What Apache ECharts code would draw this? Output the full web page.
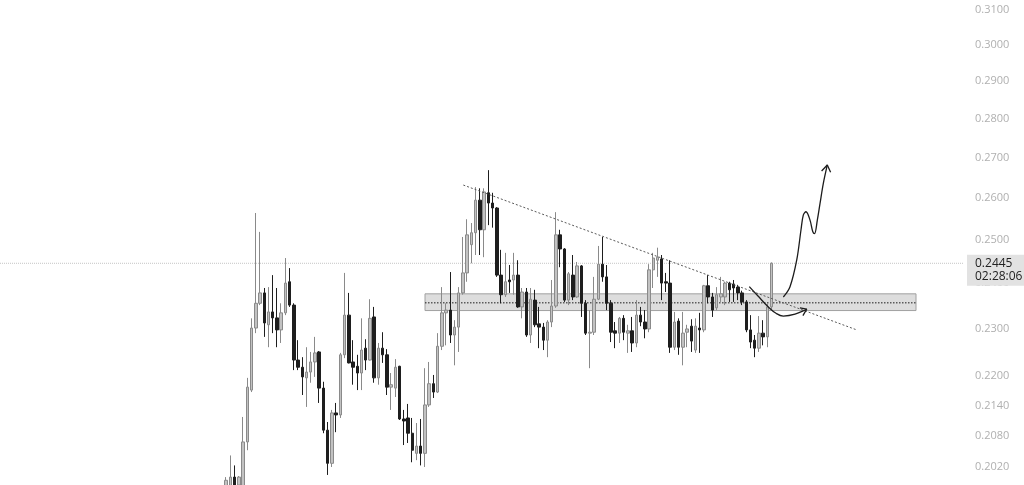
<!DOCTYPE html>
<html><head><meta charset="utf-8">
<script src="https://cdn.jsdelivr.net/npm/echarts@6/dist/echarts.min.js"></script>
<style>html,body{margin:0;padding:0;background:#fff}#c{width:1024px;height:485px}</style>
</head><body><div id="c"></div>
<script>
// ---- data ----
const startIndex = 53;
const slotCount = 228;
const opens = [0.1958,0.1967,0.2001,0.1986,0.1977,0.2068,0.2171,0.2301,0.2355,0.2378,
0.2308,0.2336,0.2323,0.2297,0.2334,0.2403,0.2351,0.2233,0.2218,0.2196,
0.2208,0.2229,0.2250,0.2175,0.2091,0.2027,0.2125,0.2121,0.2244,0.2329,
0.2229,0.2220,0.2206,0.2258,0.2233,0.2325,0.2196,0.2258,0.2244,0.2177,
0.2175,0.2220,0.2113,0.2115,0.2085,0.2046,0.2060,0.2046,0.2141,0.2184,
0.2167,0.2262,0.2334,0.2340,0.2286,0.2303,0.2378,0.2423,0.2488,0.2516,
0.2594,0.2523,0.2612,0.2587,0.2575,0.2418,0.2374,0.2407,0.2407,0.2418,
0.2347,0.2380,0.2286,0.2362,0.2310,0.2303,0.2275,0.2314,0.2349,0.2511,
0.2478,0.2362,0.2418,0.2369,0.2439,0.2355,0.2290,0.2292,0.2364,0.2443,
0.2414,0.2355,0.2295,0.2290,0.2322,0.2290,0.2295,0.2269,0.2329,0.2314,
0.2299,0.2430,0.2452,0.2455,0.2403,0.2400,0.2260,0.2316,0.2260,0.2292,
0.2305,0.2254,0.2301,0.2297,0.2394,0.2369,0.2345,0.2369,0.2369,0.2400,
0.2398,0.2391,0.2378,0.2358,0.2297,0.2275,0.2258,0.2290,0.2282,0.2347];
const closes = [0.1995,0.2001,0.1973,0.2001,0.2068,0.2177,0.2301,0.2355,0.2378,0.2312,
0.2336,0.2323,0.2297,0.2334,0.2400,0.2351,0.2233,0.2218,0.2198,0.2208,
0.2229,0.2248,0.2175,0.2091,0.2027,0.2125,0.2121,0.2244,0.2329,0.2227,
0.2218,0.2206,0.2254,0.2233,0.2322,0.2196,0.2258,0.2244,0.2177,0.2182,
0.2218,0.2113,0.2109,0.2085,0.2052,0.2060,0.2046,0.2141,0.2184,0.2167,
0.2262,0.2334,0.2340,0.2286,0.2303,0.2378,0.2423,0.2511,0.2516,0.2594,
0.2523,0.2614,0.2587,0.2575,0.2418,0.2374,0.2403,0.2403,0.2418,0.2347,
0.2380,0.2286,0.2364,0.2308,0.2303,0.2275,0.2314,0.2349,0.2511,0.2478,
0.2362,0.2421,0.2369,0.2439,0.2355,0.2290,0.2292,0.2364,0.2443,0.2414,
0.2355,0.2292,0.2290,0.2322,0.2292,0.2295,0.2269,0.2329,0.2314,0.2299,
0.2430,0.2457,0.2459,0.2400,0.2400,0.2260,0.2314,0.2260,0.2290,0.2299,
0.2273,0.2305,0.2297,0.2394,0.2369,0.2340,0.2374,0.2376,0.2400,0.2385,
0.2389,0.2378,0.2358,0.2297,0.2271,0.2258,0.2290,0.2282,0.2347,0.2445];
const lows = [0.1949,0.1958,0.1958,0.1977,0.1967,0.2052,0.2167,0.2290,0.2351,0.2282,
0.2260,0.2290,0.2260,0.2269,0.2329,0.2347,0.2212,0.2212,0.2161,0.2137,
0.2186,0.2198,0.2145,0.2085,0.2005,0.2020,0.2087,0.2115,0.2237,0.2226,
0.2182,0.2171,0.2171,0.2212,0.2232,0.2186,0.2182,0.2227,0.2161,0.2131,
0.2157,0.2111,0.2062,0.2066,0.2029,0.2033,0.2023,0.2020,0.2137,0.2155,
0.2165,0.2254,0.2264,0.2269,0.2222,0.2250,0.2374,0.2403,0.2445,0.2464,
0.2464,0.2459,0.2534,0.2528,0.2414,0.2355,0.2369,0.2378,0.2374,0.2345,
0.2322,0.2282,0.2269,0.2303,0.2258,0.2254,0.2239,0.2303,0.2345,0.2436,
0.2358,0.2351,0.2362,0.2367,0.2325,0.2286,0.2216,0.2286,0.2362,0.2403,
0.2340,0.2271,0.2258,0.2269,0.2275,0.2248,0.2250,0.2260,0.2305,0.2279,
0.2292,0.2389,0.2414,0.2362,0.2380,0.2248,0.2254,0.2244,0.2222,0.2260,
0.2250,0.2248,0.2248,0.2292,0.2355,0.2325,0.2340,0.2358,0.2351,0.2358,
0.2358,0.2362,0.2351,0.2292,0.2258,0.2239,0.2250,0.2264,0.2260,0.2342];
const highs = [0.2001,0.2042,0.2023,0.2003,0.2117,0.2196,0.2322,0.2563,0.2518,0.2389,
0.2391,0.2418,0.2389,0.2355,0.2457,0.2434,0.2355,0.2275,0.2239,0.2260,
0.2250,0.2282,0.2252,0.2188,0.2107,0.2131,0.2145,0.2248,0.2423,0.2378,
0.2275,0.2244,0.2322,0.2277,0.2364,0.2347,0.2269,0.2292,0.2256,0.2206,
0.2235,0.2221,0.2131,0.2143,0.2115,0.2105,0.2113,0.2216,0.2229,0.2202,
0.2290,0.2391,0.2355,0.2425,0.2318,0.2391,0.2506,0.2548,0.2539,0.2626,
0.2623,0.2623,0.2668,0.2612,0.2577,0.2476,0.2469,0.2441,0.2469,0.2452,
0.2389,0.2389,0.2389,0.2385,0.2347,0.2312,0.2318,0.2407,0.2565,0.2523,
0.2480,0.2425,0.2464,0.2448,0.2441,0.2362,0.2340,0.2414,0.2485,0.2506,
0.2441,0.2362,0.2314,0.2325,0.2329,0.2308,0.2325,0.2362,0.2347,0.2340,
0.2443,0.2469,0.2481,0.2464,0.2423,0.2452,0.2336,0.2322,0.2336,0.2308,
0.2320,0.2322,0.2334,0.2396,0.2418,0.2378,0.2391,0.2414,0.2403,0.2403,
0.2407,0.2396,0.2383,0.2362,0.2329,0.2286,0.2327,0.2318,0.2355,0.2447];
const yTicks = [0.202,0.208,0.214,0.22,0.23,0.24,0.25,0.26,0.27,0.28,0.29,0.30,0.31];
const yMin = 0.19862, yMax = 0.31293;
const lastPrice = 0.2445;
const lastTime = '02:28:06';
// drawings (x in slot units, y in price)
const trendLine = [[109.08,0.2631],[202.13,0.2297]];
const zoneFrom = 100.02, zoneTo = 216.15;
const zoneTop = 0.2376, zoneBottom = 0.2339, zoneMid = 0.2356;
const upPath = [[184.77,0.2369],[186.35,0.2392],[187.93,0.2452],[188.95,0.2523],[189.49,0.2558],[190.13,0.2566],
  [191.08,0.2546],[191.72,0.2519],[192.15,0.2514],[192.81,0.2546],[193.45,0.2586],[194.23,0.2635],[195.17,0.2681]];
const upHead = [[193.82,0.2666],[195.17,0.2681],[195.95,0.2663]];
const downPath = [[176.72,0.2392],[178.78,0.2371],[181.22,0.2347],[183.04,0.2333],[184.77,0.2327],[187.53,0.2331],[190.30,0.2342]];
const downHead = [[188.69,0.2345],[190.30,0.2342],[189.40,0.2328]];

// ---- build ----
const categories = Array.from({length: slotCount}, (_, i) => String(i));
const candleData = categories.map((_, i) => {
  const k = i - startIndex;
  return (k >= 0 && k < opens.length) ? [opens[k], closes[k], lows[k], highs[k]] : '-';
});
const penStyle = {color: '#1c1c1c', width: 1.3};
function pen(data, smooth) {
  return {type: 'line', xAxisIndex: 1, data: data, symbol: 'none', smooth: smooth || false,
    lineStyle: penStyle, silent: true, z: 5};
}
const chart = echarts.init(document.getElementById('c'), null, {renderer: 'canvas'});
chart.setOption({
  animation: false,
  backgroundColor: '#ffffff',
  textStyle: {fontFamily: 'Open Sans'},
  grid: {left: 0, right: 60, top: 0, bottom: 0},
  xAxis: [
    {type: 'category', data: categories, boundaryGap: true, show: false},
    {type: 'value', min: -0.5, max: slotCount - 0.5, show: false}
  ],
  yAxis: {
    type: 'log', logBase: 10, min: yMin, max: yMax, position: 'right',
    axisLine: {show: false}, axisTick: {show: false}, splitLine: {show: false},
    axisLabel: {customValues: yTicks, formatter: v => Number(v).toFixed(4),
      color: '#b0b0b0', fontSize: 11, margin: 11, fontFamily: 'Open Sans'}
  },
  series: [
    {
      type: 'line', xAxisIndex: 1, data: [[zoneFrom, zoneMid], [zoneTo, zoneMid]], symbol: 'none',
      lineStyle: {color: '#1c1c1c', width: 1, type: [1.5, 1.5]}, silent: true, z: 1,
      markArea: {silent: true,
        itemStyle: {color: 'rgba(150,150,150,0.32)', borderColor: '#a0a0a0', borderWidth: 1},
        data: [[{coord: [zoneFrom, zoneTop]}, {coord: [zoneTo, zoneBottom]}]]}
    },
    {
      type: 'candlestick', xAxisIndex: 0, data: candleData, barWidth: '70%', z: 3,
      itemStyle: {color: '#c2c2c2', color0: '#1e1e1e', borderColor: '#8a8a8a', borderColor0: '#1e1e1e', borderWidth: 1}
    },
    {
      type: 'line', xAxisIndex: 1, data: [[-0.5, lastPrice], [slotCount - 0.5, lastPrice]],
      symbol: 'none', silent: true, z: 2, clip: false,
      lineStyle: {color: '#c4c4c4', type: 'dotted', width: 1},
      endLabel: {show: true, distance: 3, offset: [0, 7],
        formatter: lastPrice.toFixed(4) + '\n' + lastTime,
        backgroundColor: '#e2e2e2', color: '#222', fontSize: 12, lineHeight: 13,
        padding: [3, 10, 2, 8], fontFamily: 'Open Sans'}
    },
    {type: 'line', xAxisIndex: 1, data: trendLine, symbol: 'none', silent: true, z: 4,
      lineStyle: {color: '#5a5a5a', width: 1, type: [2, 2]}},
    pen(upPath, 0.35), pen(upHead), pen(downPath, 0.4), pen(downHead)
  ]
});
</script></body></html>
